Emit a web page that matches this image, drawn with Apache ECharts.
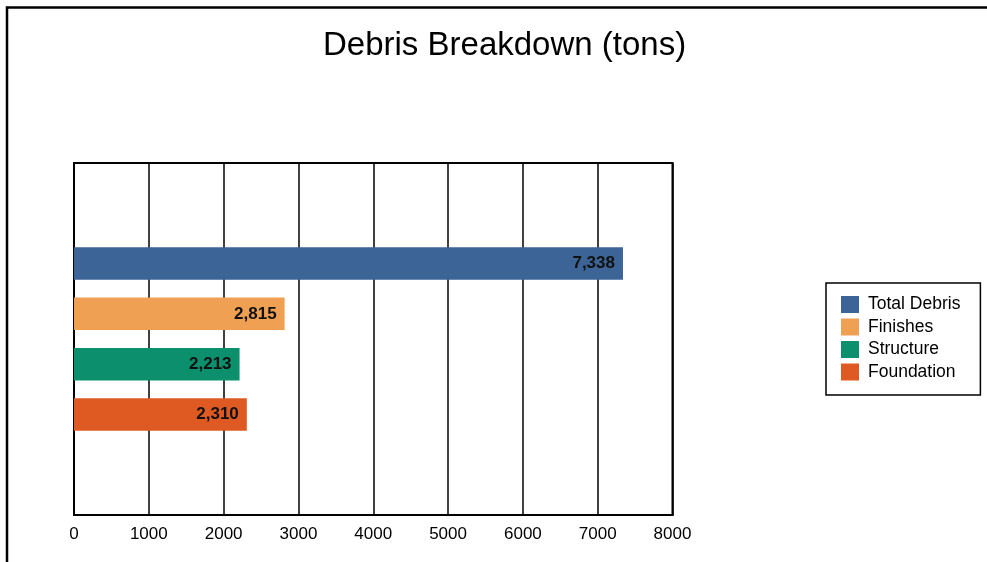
<!DOCTYPE html>
<html>
<head>
<meta charset="utf-8">
<script src="https://cdn.jsdelivr.net/npm/echarts@6/dist/echarts.min.js"></script>
<style>
html,body{margin:0;padding:0;background:#fff;}
#chart{width:987px;height:562px;}
</style>
</head>
<body>
<div id="chart"></div>
<script>
const titleText = 'Debris Breakdown (tons)';
const categories = ['Debris'];
const seriesNames = ['Total Debris', 'Finishes', 'Structure', 'Foundation'];
const totalDebris = [7338];
const finishes = [2815];
const structure = [2213];
const foundation = [2310];
const seriesColors = ['#3C6496', '#EFA052', '#0C8F6C', '#DE5A22'];
const xMin = 0, xMax = 8000, xInterval = 1000;

const seriesValues = [totalDebris, finishes, structure, foundation];
const FONT = '"Liberation Sans", Arial, sans-serif';

const chart = echarts.init(document.getElementById('chart'), null, {renderer: 'canvas'});
chart.setOption({
  animation: false,
  backgroundColor: '#fff',
  textStyle: {fontFamily: FONT},
  title: {
    text: titleText,
    left: 323,
    top: 29,
    padding: 0,
    textStyle: {fontSize: 33, fontWeight: 'normal', color: '#000', fontFamily: FONT}
  },
  graphic: [{
    type: 'rect',
    shape: {x: 7, y: 7.5, width: 1000, height: 600},
    style: {fill: 'none', stroke: '#000', lineWidth: 2.5},
    silent: true
  }],
  legend: {
    data: seriesNames,
    orient: 'vertical',
    left: 826,
    top: 283,
    padding: [12.5, 20, 14, 15],
    itemWidth: 18,
    itemHeight: 17,
    itemGap: 4.5,
    icon: 'rect',
    borderColor: '#000',
    borderWidth: 1.5,
    textStyle: {fontSize: 17.5, color: '#000', fontFamily: FONT, padding: [0, 0, 0, 4]}
  },
  grid: {
    left: 74, right: 314.5, top: 163, bottom: 47,
    show: true, borderColor: '#000', borderWidth: 2
  },
  xAxis: {
    type: 'value',
    min: xMin, max: xMax, interval: xInterval,
    axisLine: {show: true, lineStyle: {color: '#000', width: 2}},
    axisTick: {show: false},
    splitLine: {show: true, lineStyle: {color: '#000', width: 1.5}},
    axisLabel: {fontSize: 17, color: '#000', margin: 11, fontFamily: FONT, formatter: v => String(v)}
  },
  yAxis: {
    type: 'category',
    data: categories,
    axisLine: {show: true, lineStyle: {color: '#000', width: 2}},
    axisTick: {show: false},
    axisLabel: {show: false}
  },
  series: seriesNames.map((name, i) => ({
    name: name,
    type: 'bar',
    data: seriesValues[i],
    barWidth: 32.5,
    barGap: '55%',
    itemStyle: {color: seriesColors[i]},
    label: {
      show: true,
      position: 'insideRight',
      distance: 8,
      fontSize: 17,
      fontWeight: 'bold',
      color: '#111',
      fontFamily: FONT,
      formatter: p => p.value.toLocaleString('en-US')
    }
  }))
});
</script>
</body>
</html>
